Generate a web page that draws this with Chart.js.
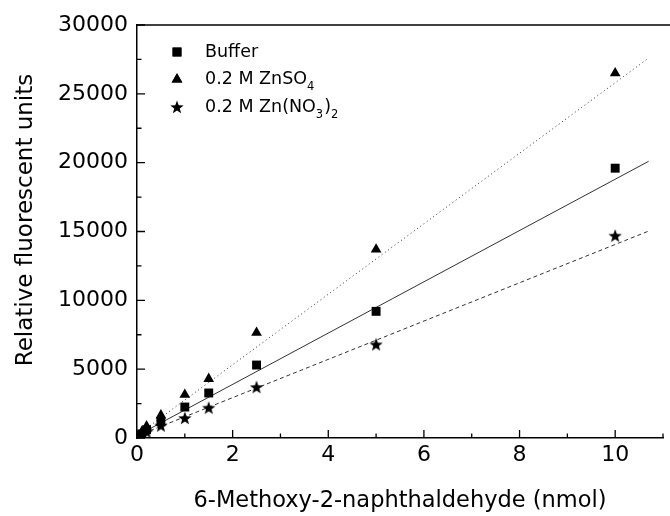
<!DOCTYPE html>
<html>
<head>
<meta charset="utf-8">
<script src="https://cdn.jsdelivr.net/npm/chart.js@4"></script>
<style>
  html, body { margin: 0; padding: 0; background: #fff; }
  #wrap { width: 670px; height: 516px; }
</style>
</head>
<body>
<div id="wrap"><canvas id="chart" width="670" height="516"></canvas></div>
<script>
// amounts of 6-methoxy-2-naphthaldehyde (nmol)
const amounts = [0.1, 0.2, 0.5, 1, 1.5, 2.5, 5, 10];
const buffer = [300, 600, 1200, 2250, 3270, 5300, 9200, 19600];
const znSO4 = [450, 850, 1650, 3150, 4300, 7650, 13700, 26500];
const znNO3 = [200, 450, 900, 1450, 2200, 3700, 6800, 14700];

// fitted lines, end points
const fitX = [0, 10.7];
const fitBuffer = [170, 20100];
const fitZnSO4 = [200, 27600];
const fitZnNO3 = [150, 15030];

const xTicks = [0, 2, 4, 6, 8, 10];
const yTicks = [0, 5000, 10000, 15000, 20000, 25000, 30000];

const FONT = '"DejaVu Sans", sans-serif';

const pts = (xs, ys) => xs.map((x, i) => ({ x, y: ys[i] }));

// filled five-point star used as marker
function makeStar(size) {
  const c = document.createElement('canvas');
  c.width = size; c.height = size;
  const g = c.getContext('2d');
  const cx = size / 2, cy = size / 2 + 0.6, ro = size / 2, ri = ro * 0.42;
  g.beginPath();
  for (let i = 0; i < 10; i++) {
    const r = i % 2 ? ri : ro;
    const a = -Math.PI / 2 + i * Math.PI / 5;
    g.lineTo(cx + r * Math.cos(a), cy + r * Math.sin(a));
  }
  g.closePath();
  g.fillStyle = '#000';
  g.fill();
  return c;
}
const star = makeStar(14);

const legendItems = [
  { style: 'rect', radius: 6.3, parts: [['Buffer', 0]] },
  { style: 'triangle', radius: 6.2, parts: [['0.2 M ZnSO', 0], ['4', 1]] },
  { style: star, radius: 7, parts: [['0.2 M Zn(NO', 0], ['3', 1], [')', 0], ['2', 1]] }
];

const frame = {
  id: 'frame',
  afterDraw(chart) {
    const { ctx, chartArea: a, scales } = chart;
    ctx.save();
    ctx.strokeStyle = '#000';
    ctx.lineWidth = 1.5;
    // top border
    ctx.beginPath();
    ctx.moveTo(a.left, a.top);
    ctx.lineTo(chart.width, a.top);
    ctx.stroke();
    // inward ticks
    ctx.lineWidth = 1.3;
    ctx.beginPath();
    for (let v = 0; v <= 11; v++) {
      const px = scales.x.getPixelForValue(v);
      const len = v % 2 ? 4.5 : 8;
      ctx.moveTo(px, a.bottom);
      ctx.lineTo(px, a.bottom - len);
    }
    for (let v = 0; v <= 30000; v += 2500) {
      const py = scales.y.getPixelForValue(v);
      const len = v % 5000 ? 4.5 : 8;
      ctx.moveTo(a.left, py);
      ctx.lineTo(a.left + len, py);
    }
    ctx.stroke();

    // y axis title, sits a little above the plot centre
    ctx.fillStyle = '#000';
    ctx.save();
    ctx.translate(32, 220);
    ctx.rotate(-Math.PI / 2);
    ctx.font = '23px ' + FONT;
    ctx.textAlign = 'center';
    ctx.textBaseline = 'alphabetic';
    ctx.fillText('Relative fluorescent units', 0, 0);
    ctx.restore();

    // legend
    ctx.textBaseline = 'middle';
    legendItems.forEach((it, i) => {
      const y = 52 + i * 27.5;
      Chart.helpers.drawPoint(ctx, { pointStyle: it.style, radius: it.radius, borderWidth: 0 }, 177, y);
      if (it.style !== star) ctx.fill();
      let x = 205;
      it.parts.forEach(([t, sub]) => {
        ctx.font = (sub ? '11.5px ' : '17.5px ') + FONT;
        ctx.fillText(t, x, sub ? y + 8 : y);
        x += ctx.measureText(t).width + (sub ? 1 : 0);
      });
    });
    ctx.restore();
  }
};

const marker = (style, r) => ({
  showLine: false,
  order: 0,
  pointStyle: style,
  pointRadius: r,
  pointHoverRadius: r,
  pointBackgroundColor: '#000',
  pointBorderColor: '#000',
  pointBorderWidth: 0
});

const fitLine = (ys, dash) => ({
  data: pts(fitX, ys),
  order: 1,
  showLine: true,
  pointRadius: 0,
  borderColor: '#333',
  borderWidth: 1,
  borderDash: dash
});

new Chart(document.getElementById('chart'), {
  type: 'scatter',
  data: {
    datasets: [
      { label: 'Buffer', data: pts(amounts, buffer), ...marker('rect', 6.3) },
      { label: '0.2 M ZnSO4', data: pts(amounts, znSO4), ...marker('triangle', 6.2) },
      { label: '0.2 M Zn(NO3)2', data: pts(amounts, znNO3), ...marker(star, 7) },
      fitLine(fitBuffer, []),
      fitLine(fitZnSO4, [1, 3]),
      fitLine(fitZnNO3, [4, 3])
    ]
  },
  options: {
    responsive: false,
    animation: false,
    layout: { padding: { top: 25, right: 5, left: 0, bottom: 0 } },
    plugins: { legend: { display: false }, tooltip: { enabled: false } },
    scales: {
      x: {
        type: 'linear',
        min: 0,
        max: 11,
        afterBuildTicks: s => { s.ticks = xTicks.map(v => ({ value: v })); },
        afterFit: s => { s.height = 78; },
        grid: { display: false, drawTicks: false },
        border: { display: true, color: '#000', width: 1.5 },
        ticks: { color: '#000', padding: 4, font: { family: FONT, size: 22 } },
        title: {
          display: true,
          text: '6-Methoxy-2-naphthaldehyde (nmol)',
          color: '#000',
          padding: { top: 0, bottom: 1 },
          font: { family: FONT, size: 22.5 }
        }
      },
      y: {
        min: 0,
        max: 30000,
        afterBuildTicks: s => { s.ticks = yTicks.map(v => ({ value: v })); },
        afterFit: s => { s.width = 137; },
        grid: { display: false, drawTicks: false },
        border: { display: true, color: '#000', width: 1.5 },
        ticks: {
          color: '#000',
          padding: 9,
          font: { family: FONT, size: 22 },
          callback: v => String(v)
        }
      }
    }
  },
  plugins: [frame]
});
</script>
</body>
</html>
